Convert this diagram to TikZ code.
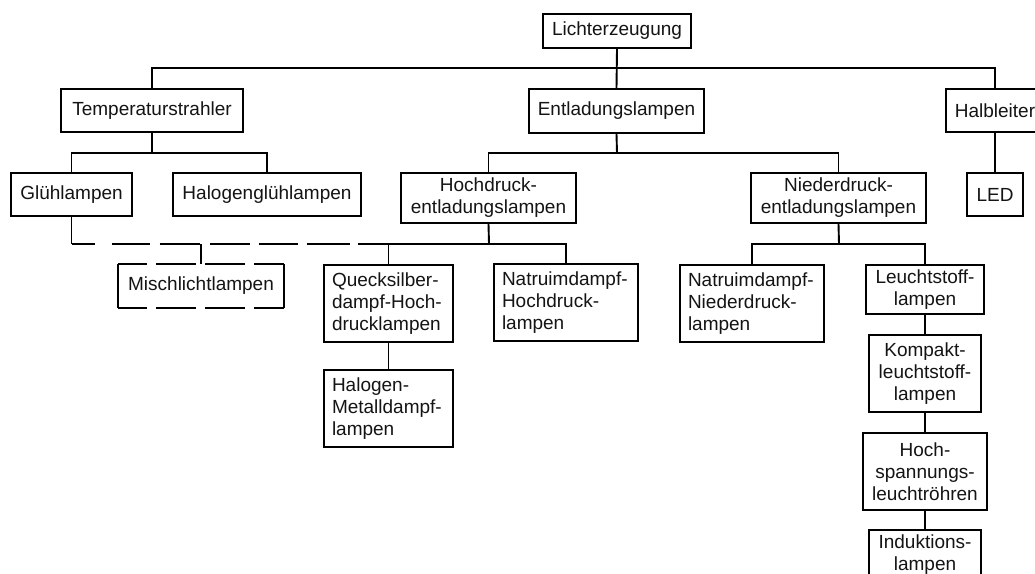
\documentclass[tikz,border=0pt]{standalone}
\usepackage{fontspec}
\setmainfont{Liberation Sans}
\begin{document}
\begin{tikzpicture}[x=1pt,y=-1pt,
  box/.style={draw, line width=1.9pt, inner sep=0pt, align=center,
    font=\fontsize{19}{22}\selectfont, text=black!92},
  lbox/.style={box, align=left, text width=#1, inner xsep=8pt},
  nobox/.style={box, draw=none},
  conn/.style={line width=1.9pt},
  dline/.style={line width=1.9pt, dash pattern=on 23pt off 17pt on 38pt off 10pt on 40pt off 10pt on 40pt off 9pt on 39pt off 9pt on 43pt off 8pt on 60pt},
  dedge/.style={line width=1.9pt, dash pattern=on 29pt off 9pt on 40pt off 9pt on 40pt off 9pt on 60pt}
]
\useasboundingbox (0,0) rectangle (1035,573);
\clip (0,0) rectangle (1035,573);
\fill[white] (0,0) rectangle (1035,573);

% level 0
\node[box, minimum width=148pt, minimum height=34pt] (L) at (617,31) {Lichterzeugung};
% level 1
\node[box, minimum width=182pt, minimum height=43pt] (T) at (152,110.5) {Temperaturstrahler};
\node[box, minimum width=175pt, minimum height=44pt] (E) at (616.5,111) {Entladungslampen};
\node[box, minimum width=98pt, minimum height=43pt] (Hb) at (995,110.5) {Halbleiter};
% level 2
\node[box, minimum width=121pt, minimum height=43pt] (G) at (71.5,194.5) {Glühlampen};
\node[box, minimum width=188pt, minimum height=43pt] (HG) at (267,194.5) {Halogenglühlampen};
\node[box, minimum width=175pt, minimum height=50pt] (HD) at (488.5,198) {Hochdruck-\\entladungslampen};
\node[box, minimum width=175pt, minimum height=50pt] (ND) at (838.5,198) {Niederdruck-\\entladungslampen};
\node[box, minimum width=56pt, minimum height=43pt] (LED) at (995,194.5) {LED};
% level 3
\node[nobox, minimum width=164pt, minimum height=42pt] (M) at (201,286) {Mischlichtlampen};
\node[lbox=113pt, minimum height=77pt] (Q) at (388.5,303.5) {Quecksilber-\\dampf-Hoch-\\drucklampen};
\node[lbox=128pt, minimum height=77pt] (NH) at (566,302.5) {Natruimdampf-\\Hochdruck-\\lampen};
\node[lbox=128pt, minimum height=77pt] (NN) at (752,303.5) {Natruimdampf-\\Niederdruck-\\lampen};
\node[box, minimum width=118pt, minimum height=49pt] (LS) at (925,289.5) {Leuchtstoff-\\lampen};
% level 4+
\node[lbox=113pt, minimum height=77pt] (HM) at (388.5,408.5) {Halogen-\\Metalldampf-\\lampen};
\node[box, minimum width=112pt, minimum height=77pt] (KL) at (925,373.5) {Kompakt-\\leuchtstoff-\\lampen};
\node[box, minimum width=124pt, minimum height=77pt] (HS) at (925,471.5) {Hoch-\\spannungs-\\leuchtröhren};
\node[box, minimum width=112pt, minimum height=49pt] (IL) at (925,554.5) {Induktions-\\lampen};

% Mischlicht box: solid sides, dashed top and bottom
\draw[conn] (M.north west) -- (M.south west);
\draw[conn] (M.north east) -- (M.south east);
\draw[dedge] (M.north west) -- (M.north east);
\draw[dedge] (M.south west) -- (M.south east);

% bus coordinates
\coordinate (b0) at (617,68);
\coordinate (tb) at (152,153);
\coordinate (eb) at (617,153);
\coordinate (hb) at (489,244);
\coordinate (nb) at (839,244);

% connectors
\draw[conn] (L.south) -- (E.north);
\draw[conn] (T.north) |- (b0) -| (Hb.north);
\draw[conn] (T.south) -- (tb);
\draw[conn] (G.north) |- (tb) -| (HG.north);
\draw[conn] (E.south) -- (eb);
\draw[conn] (HD.north) |- (eb) -| (ND.north);
\draw[conn] (Hb.south) -- (LED.north);
\draw[conn] (HD.south) -- (hb);
\draw[conn] (Q.north) |- (hb) -| (NH.north);
\draw[conn] (ND.south) -- (nb);
\draw[conn] (NN.north) |- (nb) -| (LS.north);
\draw[conn] (Q.south) -- (HM.north);
\draw[conn] (LS.south) -- (KL.north);
\draw[conn] (KL.south) -- (HS.north);
\draw[conn] (HS.south) -- (IL.north);
% dashed link Glühlampen -> Mischlicht/Hochdruck
\coordinate (gd) at (G.south |- hb);
\draw[conn] (G.south) -- (gd);
\draw[dline] (gd) -- (Q.north |- hb);
\draw[conn] (M.north) -- (M.north |- hb);
\end{tikzpicture}
\end{document}
